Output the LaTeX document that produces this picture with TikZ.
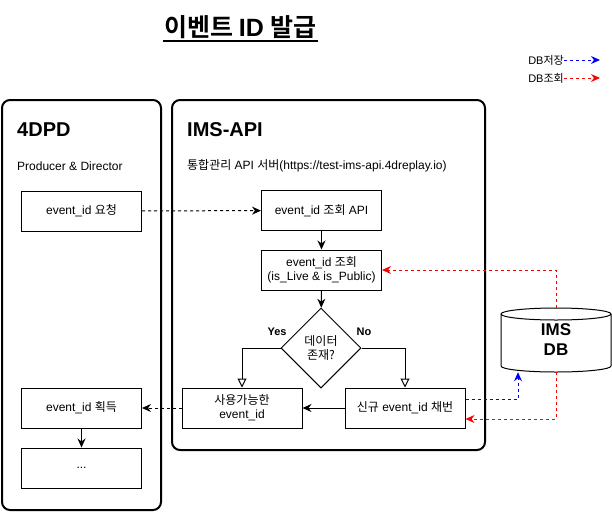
\documentclass[tikz,border=0pt]{standalone}
\usepackage{fontspec}
\setmainfont{Liberation Sans}
\newfontfamily\kr{Noto Sans CJK KR}[BoldFont={Noto Sans CJK KR Bold}]
\usetikzlibrary{arrows.meta,shapes.geometric}
\tikzset{
  ftw/.style={font=\fontsize{12}{14}\selectfont},
  fel/.style={font=\fontsize{11}{13}\selectfont},
  box/.style={draw, line width=1pt, minimum width=120pt, minimum height=40pt, align=center, inner sep=0pt, ftw},
  cont/.style={draw, line width=2pt, rounded corners=8pt},
  ttl/.style={anchor=west, inner sep=0pt, font=\fontsize{20}{24}\selectfont\bfseries},
  sub/.style={anchor=west, inner sep=0pt, ftw},
  solidarr/.style={line width=1pt, -{Stealth[length=9pt,width=8pt]}},
  dasharr/.style={line width=1pt, dashed, -{Stealth[length=9pt,width=8pt]}},
  openarr/.style={line width=1pt, -{Triangle[open,length=9pt,width=9pt]}},
  lbl/.style={inner sep=0pt, font=\fontsize{11}{13}\selectfont\bfseries},
}
\begin{document}
\begin{tikzpicture}[x=1pt,y=-1pt]
\useasboundingbox (0,0) rectangle (612,512);
% title
\node[inner sep=0pt, font=\fontsize{25}{29}\selectfont\bfseries] (title) at (240.5,27) {\kr 이벤트 \rmfamily ID \kr 발급};
\draw[line width=1.5pt] (163,41) -- (318,41);
% legend
\node[anchor=east, inner sep=0pt, fel] (lg1) at (564,60) {DB{\kr 저장}};
\coordinate (lg1e) at (600,60);
\draw[dasharr, blue] (lg1.east) -- (lg1e);
\node[anchor=east, inner sep=0pt, fel] (lg2) at (564,78) {DB{\kr 조회}};
\coordinate (lg2e) at (600,78);
\draw[dasharr, red] (lg2.east) -- (lg2e);
% containers
\draw[cont] (2,100) rectangle (161,510);
\draw[cont] (172,100) rectangle (485,450);
\node[ttl] (t1) at (17,130) {4DPD};
\node[sub] (s1) at (17,166) {Producer \& Director};
\node[ttl] (t2) at (187,130) {IMS-API};
\node[sub] (s2) at (187,166) {{\kr 통합관리} API {\kr 서버}(https://test-ims-api.4dreplay.io)};
% boxes
\node[box] (req) at (81.5,211) {event\_id {\kr 요청}};
\node[box] (get) at (81.5,408) {event\_id {\kr 획득}};
\node[box] (dots) at (81.5,468) {...};
\node[box] (api) at (321.5,210.5) {event\_id {\kr 조회} API};
\node[box] (chk) at (321.5,270) {event\_id {\kr 조회}\\(is\_Live \& is\_Public)};
\node[draw, line width=1pt, diamond, aspect=1, minimum width=80pt, minimum height=80pt, inner sep=0pt, align=center, ftw] (dia) at (321,348) {\kr 데이터\\\kr 존재?};
\node[box] (avail) at (242,408) {\kr 사용가능한\\event\_id};
\node[box] (new) at (405,408) {{\kr 신규} event\_id {\kr 채번}};
% cylinder
\draw[line width=1pt, fill=white] (501,314) -- (501,366) arc[start angle=180, end angle=360, x radius=55pt, y radius=6pt] -- (611,314);
\draw[line width=1pt] (556,314) ellipse[x radius=55pt, y radius=6pt];
\node[minimum width=110pt, minimum height=64pt, inner sep=0pt, align=center, font=\fontsize{17}{20}\selectfont\bfseries] (db) at (556,340) {IMS\\DB};
% connectors
\draw[dasharr] (req) -- (api);
\draw[solidarr] (api) -- (chk);
\draw[solidarr] (chk) -- (dia);
\draw[openarr] (dia.west) -| (avail.north);
\draw[openarr] (dia.east) -| (new.north);
\node[lbl] (yes) at (277,332) {Yes};
\node[lbl] (no) at (364,332) {No};
\draw[solidarr] (new) -- (avail);
\draw[dasharr] (avail) -- (get);
\draw[solidarr] (get) -- (dots);
\draw[dasharr, red] (db.north) |- (chk.east);
\draw[dasharr, blue] ([yshift=9pt]new.east) -| ([xshift=-38pt]db.south);
\draw[dasharr, red] (db.south) |- ([yshift=-11pt]new.east);
\end{tikzpicture}
\end{document}
